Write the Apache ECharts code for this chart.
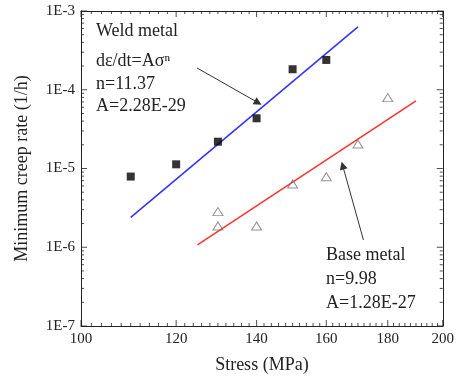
<!DOCTYPE html>
<html>
<head>
<meta charset="utf-8">
<script src="https://cdn.jsdelivr.net/npm/echarts@6/dist/echarts.min.js"></script>
<style>
  html, body { margin: 0; padding: 0; background: #fff; }
  #chart { width: 457px; height: 379px; }
</style>
</head>
<body>
<div id="chart"></div>
<script>
// values (stress in MPa, rate in 1/h)
var weldStress = [110, 120, 130, 140, 150, 160];
var weldRate = [7.9e-6, 1.13e-5, 2.19e-5, 4.34e-5, 1.82e-4, 2.39e-4];
var baseStress = [130, 130, 140, 150, 160, 170, 180];
var baseRate = [2.83e-6, 1.86e-6, 1.86e-6, 6.35e-6, 7.87e-6, 2.05e-5, 7.94e-5];
var weldFitStress = [110, 170];
var weldFitRate = [2.4e-6, 6.3e-4];
var baseFitStress = [125, 190];
var baseFitRate = [1.07e-6, 7.2e-5];
var xTicks = [100, 120, 140, 160, 180, 200];
var yTicks = [1e-7, 1e-6, 1e-5, 1e-4, 1e-3];
var weldArrow = [[124.9, 1.89e-4], [140.4, 6.85e-5]];
var baseArrow = [[171.8, 1.24e-6], [165.1, 1.09e-5]];

(function() {
  var ink = '#222';
  var serif = 'Liberation Serif';
  var lg = Math.log10;

  function pts(xs, ys) {
    return xs.map(function(x, i) { return [lg(x), lg(ys[i])]; });
  }

  var xMin = lg(100), xMax = lg(200), yMin = -7, yMax = -3;

  // inward tick marks on all four sides, as thin rect symbols sitting on the frame
  var tickItems = [];
  function addX(v, len) {
    tickItems.push({ value: [v, yMin], symbolSize: [1, len], symbolOffset: [0, -len / 2] });
    tickItems.push({ value: [v, yMax], symbolSize: [1, len], symbolOffset: [0, len / 2] });
  }
  function addY(v, len) {
    tickItems.push({ value: [xMin, v], symbolSize: [len, 1], symbolOffset: [len / 2, 0] });
    tickItems.push({ value: [xMax, v], symbolSize: [len, 1], symbolOffset: [-len / 2, 0] });
  }
  xTicks.forEach(function(t) { addX(lg(t), 6); });
  for (var s = 102; s < 200; s += 2) { if (s % 20) addX(lg(s), 3); }
  yTicks.forEach(function(t) { addY(lg(t), 6); });
  for (var d = -7; d < -3; d++) {
    for (var m = 2; m <= 9; m++) addY(d + lg(m), 3);
  }

  function axisBase(pos, min, max, labels, fmt) {
    return {
      type: 'value', position: pos, min: min, max: max,
      axisLine: { show: true, onZero: false, lineStyle: { color: ink, width: 1 } },
      axisTick: { show: false },
      axisLabel: labels ? {
        show: true, customValues: labels, color: ink, fontFamily: serif, fontSize: 15, margin: 6,
        formatter: fmt
      } : { show: false },
      splitLine: { show: false }
    };
  }

  var xs = [
    axisBase('bottom', xMin, xMax, xTicks.map(lg), function(v) { return String(Math.round(Math.pow(10, v))); }),
    axisBase('top', xMin, xMax, null)
  ];
  xs[0].name = 'Stress (MPa)';
  xs[0].nameLocation = 'middle';
  xs[0].nameGap = 30;
  xs[0].nameTextStyle = { color: ink, fontFamily: serif, fontSize: 18 };

  var ys = [
    axisBase('left', yMin, yMax, yTicks.map(lg), function(v) { return '1E' + Math.round(v); }),
    axisBase('right', yMin, yMax, null)
  ];
  ys[0].name = 'Minimum creep rate (1/h)';
  ys[0].nameLocation = 'middle';
  ys[0].nameGap = 50;
  ys[0].nameTextStyle = { color: ink, fontFamily: serif, fontSize: 18 };

  function arrow(a) {
    return [{ coord: [lg(a[0][0]), lg(a[0][1])] }, { coord: [lg(a[1][0]), lg(a[1][1])] }];
  }

  function label(x, y, txt) {
    return { type: 'text', left: x, top: y,
      style: { text: txt, fontFamily: serif, fontSize: 18, fill: ink } };
  }

  var chart = echarts.init(document.getElementById('chart'), null, { renderer: 'canvas' });
  chart.setOption({
    animation: false,
    backgroundColor: '#fff',
    grid: { left: 81, right: 11, top: 11, bottom: 53 },
    xAxis: xs,
    yAxis: ys,
    series: [
      {
        name: 'ticks', type: 'scatter', data: tickItems, symbol: 'rect',
        itemStyle: { color: ink }, clip: false, silent: true, z: 1
      },
      {
        name: 'Weld fit', type: 'line', data: pts(weldFitStress, weldFitRate),
        symbol: 'none', lineStyle: { color: '#3030ff', width: 1.5 }, z: 2,
        markLine: {
          silent: true, symbol: ['none', 'triangle'], symbolSize: 8,
          lineStyle: { color: '#333', width: 1, type: 'solid' },
          label: { show: false },
          data: [arrow(weldArrow), arrow(baseArrow)]
        }
      },
      {
        name: 'Base fit', type: 'line', data: pts(baseFitStress, baseFitRate),
        symbol: 'none', lineStyle: { color: '#ff3030', width: 1.5 }, z: 2
      },
      {
        name: 'Weld metal', type: 'scatter', data: pts(weldStress, weldRate),
        symbol: 'rect', symbolSize: 8, itemStyle: { color: '#000' }, z: 3
      },
      {
        name: 'Base metal', type: 'scatter', data: pts(baseStress, baseRate),
        symbol: 'triangle', symbolSize: [10, 8],
        itemStyle: { color: 'rgba(255,255,255,0)', borderColor: '#777', borderWidth: 1 }, z: 3
      }
    ],
    graphic: [
      label(96, 22, 'Weld metal'),
      label(96, 52, 'd\u03b5/dt=A\u03c3\u207f'),
      label(96, 75, 'n=11.37'),
      label(96, 97, 'A=2.28E-29'),
      label(326, 246, 'Base metal'),
      label(326, 270, 'n=9.98'),
      label(326, 294, 'A=1.28E-27')
    ]
  });

  window.addEventListener('resize', function() { chart.resize(); });
})();
</script>
</body>
</html>
